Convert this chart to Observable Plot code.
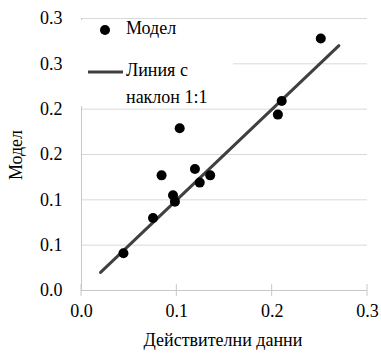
<!DOCTYPE html>
<html><head><meta charset="utf-8">
<script src="https://cdn.jsdelivr.net/npm/d3@7"></script>
<script src="https://cdn.jsdelivr.net/npm/@observablehq/plot@0.6"></script>
<style>body{margin:0;background:#fff} #chart svg{display:block;background:#fff}</style>
</head><body><div id="chart"></div>
<script>
const actual = [0.044, 0.075, 0.096, 0.098, 0.084, 0.103, 0.119, 0.124, 0.135, 0.251, 0.210, 0.206];
const model  = [0.041, 0.080, 0.105, 0.098, 0.127, 0.179, 0.134, 0.119, 0.127, 0.278, 0.209, 0.194];
const lineX = [0.02, 0.27];
const lineY = [0.02, 0.27];
const xTicks = [0, 0.1, 0.2, 0.3];
const xTickLabels = ["0.0", "0.1", "0.2", "0.3"];
const yTicks = [0, 0.05, 0.1, 0.15, 0.2, 0.25, 0.3];
const yTickLabels = ["0.0", "0.1", "0.1", "0.2", "0.2", "0.3", "0.3"];
const xLabel = "Действителни данни";
const yLabel = "Модел";
const legendLabels = ["Модел", "Линия с", "наклон 1:1"];

const points = actual.map((x, i) => ({x, y: model[i]}));
const line = lineX.map((x, i) => ({x, y: lineY[i]}));

const plot = Plot.plot({
  width: 381, height: 353,
  marginLeft: 81, marginRight: 14, marginTop: 18, marginBottom: 63,
  x: {domain: [0, 0.3]},
  y: {domain: [0, 0.3]},
  marks: [
    Plot.gridY(yTicks, {stroke: "#d9d9d9", strokeOpacity: 1}),
    Plot.ruleY([0], {stroke: "#c8c8c8"}),
    Plot.ruleX([0], {stroke: "#c8c8c8"}),
    Plot.axisY({ticks: yTicks, tickSize: 0, tickPadding: 19, tickFormat: (d) => yTickLabels[yTicks.indexOf(d)], label: null, fontSize: 18}),
    Plot.axisX({ticks: xTicks, tickSize: 0, tickPadding: 14, tickFormat: (d) => xTickLabels[xTicks.indexOf(d)], label: null, fontSize: 18}),
    Plot.line(line, {x: "x", y: "y", stroke: "#404040", strokeWidth: 3}),
    Plot.dot(points, {x: "x", y: "y", r: 5, fill: "#000", stroke: "none"})
  ]
});

const svg = d3.select(plot);
const xs = plot.scale("x"), ys = plot.scale("y");
const y0 = ys.apply(0);
svg.append("g").selectAll("line").data(xTicks).join("line")
  .attr("x1", d => xs.apply(d)).attr("x2", d => xs.apply(d))
  .attr("y1", y0 - 6).attr("y2", y0 + 6)
  .attr("stroke", "#c8c8c8");
svg.append("text").attr("x", 223).attr("y", 342).attr("text-anchor", "middle")
  .attr("dominant-baseline", "middle").text(xLabel);
svg.append("text").attr("transform", "translate(18,155) rotate(-90)").attr("text-anchor", "middle")
  .attr("dominant-baseline", "middle").text(yLabel);
const lg = svg.append("g");
lg.append("rect").attr("x", 80).attr("y", 20).attr("width", 153).attr("height", 86).attr("fill", "#fff");
lg.append("circle").attr("cx", 105).attr("cy", 30).attr("r", 5).attr("fill", "#000");
lg.append("line").attr("x1", 88).attr("x2", 123).attr("y1", 72).attr("y2", 72).attr("stroke", "#404040").attr("stroke-width", 3);
[[legendLabels[0], 30], [legendLabels[1], 72], [legendLabels[2], 99]].forEach(([t, y]) => {
  lg.append("text").attr("x", 126).attr("y", y).attr("text-anchor", "start")
    .attr("dominant-baseline", "middle").text(t);
});
svg.attr("class", null).attr("font-family", null).attr("style", null);
svg.selectAll("g").attr("font-family", null);
svg.selectAll("text")
  .attr("font-family", null).attr("font-size", null)
  .attr("style", "font-family:'Liberation Serif';font-size:18px")
  .attr("fill", "#000");
document.getElementById("chart").appendChild(plot);
</script></body></html>
